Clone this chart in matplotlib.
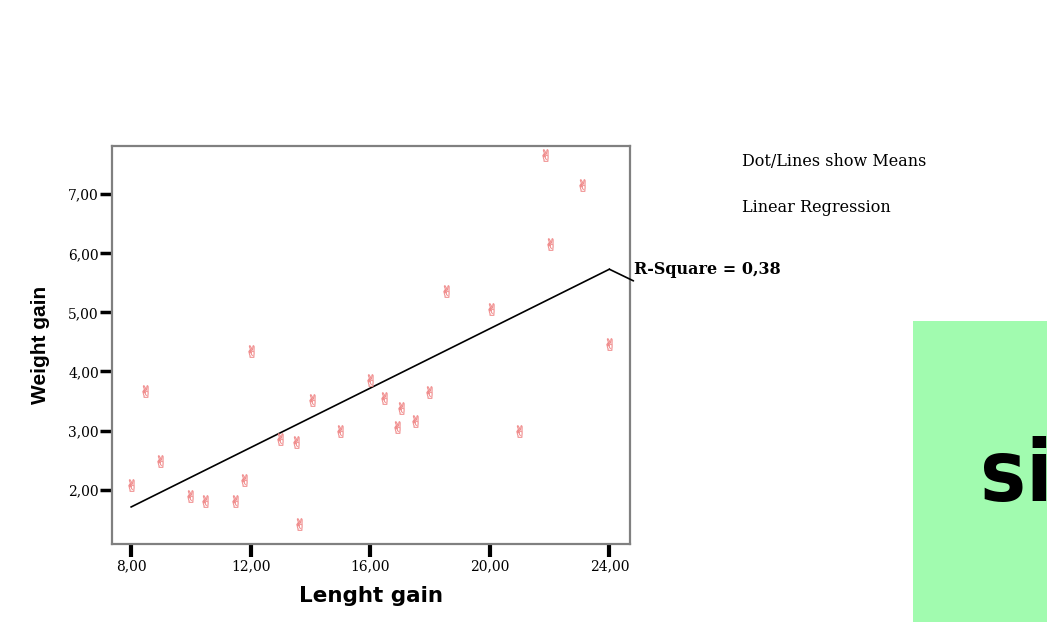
import numpy as np
import matplotlib.pyplot as plt
from matplotlib.patches import Rectangle
from matplotlib.ticker import FuncFormatter

# values
length_gain = [8.0, 8.47, 8.96, 9.98, 10.47, 11.49, 11.79, 12.0, 12.99, 13.5, 13.62,
               14.04, 15.0, 16.0, 16.47, 16.91, 17.04, 17.5, 17.98, 18.55, 20.05,
               20.97, 21.86, 22.02, 23.07, 24.0]
weight_gain = [2.08, 3.67, 2.48, 1.90, 1.80, 1.80, 2.17, 4.34, 2.85, 2.80, 1.41,
               3.51, 2.99, 3.86, 3.55, 3.06, 3.39, 3.16, 3.65, 5.37, 5.06,
               2.99, 7.67, 6.16, 7.16, 4.47]
x_ticks = [8, 12, 16, 20, 24]
y_ticks = [2, 3, 4, 5, 6, 7]
legend_lines = ["Dot/Lines show Means", "Linear Regression"]
r_square_label = "R-Square = 0,38"

serif = 'DejaVu Serif'
sans = 'Liberation Sans'

fig = plt.figure(figsize=(10.47, 6.34), dpi=100)
ax = fig.add_axes([0.107, 0.142, 0.495, 0.628])

x = np.array(length_gain)
y = np.array(weight_gain)

ax.scatter(x, y, marker='$\u270c$', s=75, color='#f08a8a', linewidths=0.3, zorder=3)

# regression line
slope, icpt = np.polyfit(x, y, 1)
xl = np.array([x.min(), x.max()])
ax.plot(xl, slope * xl + icpt, color='black', lw=1.2, zorder=2)

ax.set_xlim(7.36, 24.7)
ax.set_ylim(1.08, 7.82)
ax.set_xticks(x_ticks)
ax.set_yticks(y_ticks)
fmt = FuncFormatter(lambda v, p: f"{v:.2f}".replace('.', ','))
ax.xaxis.set_major_formatter(fmt)
ax.yaxis.set_major_formatter(fmt)
for lab in ax.get_xticklabels() + ax.get_yticklabels():
    lab.set_fontfamily(serif)
    lab.set_fontsize(10)
ax.tick_params(axis='x', direction='out', length=9, width=3, color='black', pad=2)
ax.tick_params(axis='y', direction='out', length=8.5, width=2.5, color='black', pad=1)
for sp in ax.spines.values():
    sp.set_color('#808080')
    sp.set_linewidth(1.6)

ax.set_xlabel("Lenght gain", fontfamily='DejaVu Sans', fontweight='bold', fontsize=15.5, labelpad=9)
ax.set_ylabel("Weight gain", fontfamily=sans, fontweight='bold', fontsize=15, labelpad=13)

# legend-like notes on the right
fig.text(0.709, 0.745, legend_lines[0], fontfamily=serif, fontsize=11.5, va='center')
fig.text(0.709, 0.672, legend_lines[1], fontfamily=serif, fontsize=11.5, va='center')

# R-Square label with leader line
yend = slope * xl[1] + icpt
ax.annotate('', xy=(xl[1], yend), xycoords='data', xytext=(0.605, 0.557),
            textcoords='figure fraction',
            arrowprops=dict(arrowstyle='-', lw=1.2, color='black', shrinkA=0, shrinkB=0))
fig.text(0.606, 0.575, r_square_label, fontfamily=serif, fontweight='bold', fontsize=11.5, va='center')

# green panel at right edge
fig.patches.append(Rectangle((913 / 1047, 12 / 634), 1 - 913 / 1047, 301 / 634,
                             transform=fig.transFigure, facecolor='#a1fbaf', edgecolor='none'))
fig.text(980 / 1047, 0.21, "sig", fontfamily='DejaVu Sans', fontweight='bold',
         fontstretch='condensed', fontsize=62, va='baseline', color='black')

fig.savefig('out.png', dpi=100)
